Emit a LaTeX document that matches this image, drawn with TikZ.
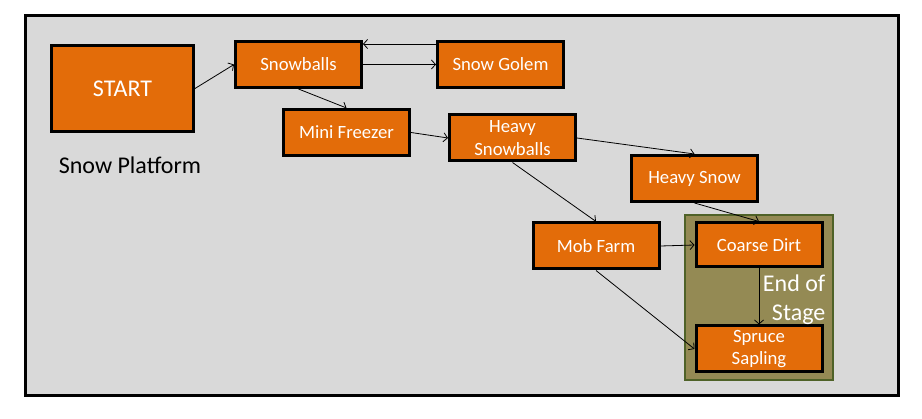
\documentclass[tikz,border=0pt]{standalone}
\usepackage{fontspec}
\setmainfont{Carlito}
\usetikzlibrary{positioning,arrows.meta,fit,backgrounds}
\definecolor{boxorange}{HTML}{E36C09}
\definecolor{panelgray}{HTML}{D9D9D9}
\definecolor{stageolive}{HTML}{948A54}
\definecolor{stagegreen}{HTML}{4F6228}

\begin{document}
\begin{tikzpicture}[x=1pt,y=-1pt,
	stepbox/.style={draw=black, line width=3pt, fill=boxorange, text=white,
		minimum width=126pt, minimum height=46pt, align=center, inner sep=2pt,
		font={\fontsize{18.7}{22.8}\selectfont}},
	bigtext/.style={font={\fontsize{24}{29.3}\selectfont}, inner sep=0pt},
	link/.style={-{Straight Barb[length=4pt,width=9pt]}, line width=0.8pt}]
	\useasboundingbox (0,0) rectangle (922,419);

	\node[stepbox, bigtext, minimum width=142pt, minimum height=86pt] (start) at (122.5,88.5) {START};
	\node[bigtext, below=24pt of start, xshift=7.5pt] (platform) {Snow Platform};
	\node[stepbox, right=39pt of start, yshift=24pt] (snowballs) {Snowballs};
	\node[stepbox, right=73pt of snowballs] (golem) {Snow Golem};
	\node[stepbox, below=19pt of snowballs, xshift=48pt] (freezer) {Mini Freezer};
	\node[stepbox, right=37pt of freezer, yshift=-5.5pt] (heavyballs) {Heavy\\Snowballs};
	\node[stepbox, right=53pt of heavyballs, yshift=-40.5pt] (heavysnow) {Heavy Snow};
	\node[stepbox, below=59pt of heavyballs, xshift=83.5pt] (mobfarm) {Mob Farm};
	\node[stepbox, right=34pt of mobfarm, yshift=1pt, minimum height=44pt] (coarse) {Coarse Dirt};
	\node[stepbox, below=56pt of coarse] (spruce) {Spruce\\Sapling};
	\node[bigtext, text=white, align=right, anchor=north east] (stagelabel)
		at ([xshift=2pt,yshift=-6pt]coarse.south east) {End of\\Stage};

	\begin{scope}[on background layer]
		\draw[line width=3pt, fill=panelgray] (25,16) rectangle (898,396);
		\node[draw=stagegreen, line width=2.5pt, fill=stageolive, inner xsep=9.5pt, inner ysep=6.5pt,
			fit=(coarse)(spruce)] (stage) {};
	\end{scope}

	\draw[link] (start.east) -- (snowballs.west);
	\draw[link] ([yshift=-4pt]golem.north west) -- ([yshift=-4pt]snowballs.north east);
	\draw[link] (snowballs.east) -- (golem.west);
	\draw[link] (snowballs.south) -- (freezer.north);
	\draw[link] (freezer.east) -- (heavyballs.west);
	\draw[link] (heavyballs.east) -- (heavysnow.north);
	\draw[link] (heavyballs.south) -- (mobfarm.north);
	\draw[link] (heavysnow.south) -- (coarse.north);
	\draw[link] (mobfarm.east) -- (coarse.west);
	\draw[link] (mobfarm.south) -- (spruce.west);
	\draw[link] (coarse.south) -- (spruce.north);
\end{tikzpicture}
\end{document}
